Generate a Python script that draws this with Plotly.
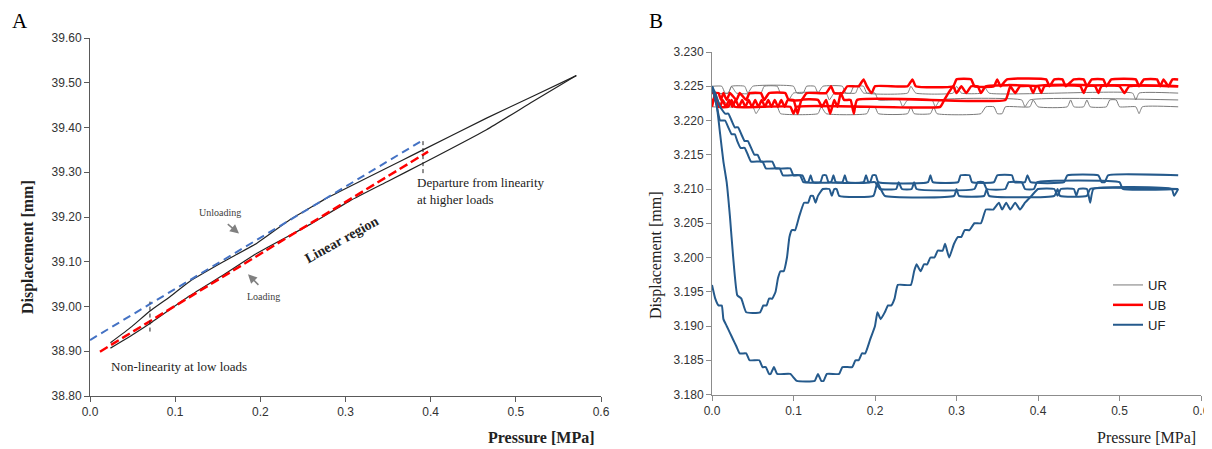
import plotly.graph_objects as go

# ---------------- Panel A data ----------------
load_x = [0.024, 0.050, 0.0704, 0.117, 0.157, 0.196, 0.258, 0.305, 0.350, 0.391, 0.4656, 0.520, 0.571]
load_y = [38.907, 38.937, 38.962, 39.024, 39.071, 39.119, 39.183, 39.236, 39.280, 39.320, 39.395, 39.458, 39.516]
unload_x = [0.571, 0.520, 0.4656, 0.391, 0.2758, 0.258, 0.2347, 0.1956, 0.1565, 0.117, 0.0939, 0.0704, 0.049, 0.024]
unload_y = [39.516, 39.470, 39.421, 39.350, 39.240, 39.220, 39.194, 39.141, 39.100, 39.056, 39.022, 38.990, 38.955, 38.919]
fit_unload_x = [0.0, 0.392]
fit_unload_y = [38.925, 39.373]
fit_load_x = [0.0117, 0.397]
fit_load_y = [38.899, 39.346]
mark_low_x = [0.0704, 0.0704]
mark_low_y = [38.944, 39.011]
mark_high_x = [0.391, 0.391]
mark_high_y = [39.298, 39.373]

# ---------------- Panel B data (x = pressure MPa, y = displacement mm) ----------------
UR_1 = [(0.000,3.225),(0.012,3.225),(0.016,3.224),(0.020,3.224),(0.024,3.225),(0.040,3.225),(0.044,3.224),(0.050,3.225),
        (0.100,3.225),(0.104,3.224),(0.112,3.224),(0.116,3.225),(0.126,3.225),(0.130,3.224),(0.136,3.225),(0.160,3.225),
        (0.164,3.224),(0.170,3.224),(0.174,3.225),(0.186,3.225),(0.190,3.224),(0.240,3.224),(0.244,3.225),(0.250,3.224),
        (0.296,3.224),(0.300,3.225),(0.306,3.224),(0.330,3.224),(0.334,3.225),(0.340,3.224),(0.516,3.224),(0.520,3.223),
        (0.524,3.224),(0.572,3.224)]
UR_2 = [(0.000,3.224),(0.020,3.224),(0.024,3.225),(0.030,3.224),(0.060,3.224),(0.064,3.225),(0.080,3.225),(0.084,3.224),
        (0.090,3.224),(0.094,3.223),(0.100,3.224),(0.140,3.224),(0.144,3.223),(0.150,3.224),(0.176,3.224),(0.180,3.225),
        (0.186,3.224),(0.200,3.224),(0.204,3.223),(0.230,3.223),(0.234,3.222),(0.240,3.223),(0.270,3.223),(0.274,3.222),
        (0.280,3.223),(0.380,3.223),(0.384,3.222),(0.390,3.223),(0.572,3.223)]
UR_3 = [(0.000,3.222),(0.010,3.222),(0.014,3.223),(0.020,3.222),(0.050,3.222),(0.054,3.221),(0.060,3.222),(0.080,3.222),
        (0.084,3.221),(0.130,3.221),(0.134,3.222),(0.140,3.221),(0.190,3.221),(0.194,3.222),(0.200,3.222),(0.204,3.221),
        (0.240,3.221),(0.244,3.222),(0.248,3.221),(0.268,3.221),(0.272,3.222),(0.276,3.221),(0.330,3.221),(0.336,3.222),
        (0.346,3.222),(0.350,3.221),(0.356,3.221),(0.360,3.222),(0.390,3.222),(0.394,3.223),(0.400,3.222),(0.436,3.222),
        (0.440,3.223),(0.444,3.222),(0.456,3.222),(0.460,3.223),(0.464,3.222),(0.484,3.222),(0.488,3.223),(0.496,3.223),
        (0.500,3.222),(0.520,3.222),(0.524,3.221),(0.528,3.222),(0.572,3.222)]

UB_1 = [(0.000,3.224),(0.008,3.224),(0.011,3.223),(0.014,3.224),(0.018,3.223),(0.022,3.224),(0.030,3.223),(0.034,3.224),
        (0.042,3.223),(0.046,3.224),(0.060,3.224),(0.064,3.223),(0.070,3.224),(0.090,3.224),(0.094,3.223),(0.110,3.223),
        (0.116,3.224),(0.140,3.224),(0.146,3.225),(0.150,3.224),(0.160,3.224),(0.166,3.225),(0.180,3.225),(0.186,3.226),
        (0.190,3.225),(0.196,3.224),(0.200,3.225),(0.240,3.225),(0.246,3.226),(0.250,3.225),(0.296,3.225),(0.300,3.226),
        (0.318,3.226),(0.322,3.225),(0.346,3.225),(0.350,3.226),(0.354,3.225),(0.362,3.226),(0.410,3.226),(0.414,3.225),
        (0.420,3.226),(0.430,3.226),(0.434,3.225),(0.444,3.226),(0.456,3.226),(0.460,3.225),(0.466,3.226),(0.480,3.226),
        (0.484,3.225),(0.490,3.226),(0.520,3.226),(0.524,3.225),(0.530,3.226),(0.546,3.226),(0.550,3.225),(0.554,3.226),
        (0.560,3.225),(0.565,3.226),(0.572,3.226)]
UB_2 = [(0.000,3.223),(0.006,3.223),(0.010,3.222),(0.013,3.223),(0.017,3.222),(0.021,3.223),(0.025,3.222),(0.029,3.223),
        (0.033,3.222),(0.037,3.223),(0.041,3.222),(0.045,3.223),(0.049,3.222),(0.053,3.223),(0.057,3.222),(0.061,3.223),
        (0.065,3.222),(0.069,3.223),(0.073,3.222),(0.077,3.223),(0.081,3.222),(0.085,3.223),(0.089,3.222),(0.093,3.223),
        (0.100,3.223),(0.105,3.221),(0.110,3.223),(0.130,3.223),(0.135,3.222),(0.140,3.223),(0.145,3.221),(0.150,3.223),
        (0.154,3.222),(0.158,3.224),(0.162,3.223),(0.170,3.223),(0.174,3.221),(0.178,3.223),(0.360,3.223),(0.366,3.225),
        (0.372,3.224),(0.378,3.225),(0.400,3.225),(0.404,3.224),(0.408,3.225),(0.452,3.225),(0.456,3.224),(0.460,3.225),
        (0.500,3.225),(0.506,3.224),(0.512,3.225),(0.572,3.225)]
UB_3 = [(0.000,3.222),(0.004,3.224),(0.008,3.222),(0.020,3.222),(0.024,3.223),(0.028,3.222),(0.096,3.222),(0.100,3.221),
        (0.104,3.222),(0.280,3.222),(0.285,3.223),(0.290,3.224),(0.296,3.225),(0.300,3.224),(0.306,3.225),(0.312,3.224),
        (0.318,3.225),(0.326,3.225),(0.330,3.224),(0.336,3.225),(0.390,3.225),(0.394,3.224),(0.398,3.225),(0.470,3.225),
        (0.474,3.224),(0.478,3.225),(0.572,3.225)]

UF_1 = [(0.000,3.225),(0.004,3.224),(0.010,3.222),(0.016,3.221),(0.020,3.221),(0.024,3.220),(0.028,3.219),(0.032,3.219),
        (0.036,3.218),(0.040,3.217),(0.044,3.217),(0.048,3.216),(0.052,3.215),(0.056,3.215),(0.060,3.214),(0.074,3.214),
        (0.078,3.213),(0.096,3.213),(0.100,3.212),(0.111,3.212),(0.115,3.211),(0.133,3.211),(0.136,3.212),(0.140,3.212),
        (0.143,3.211),(0.160,3.211),(0.163,3.212),(0.166,3.211),(0.194,3.211),(0.197,3.212),(0.201,3.212),(0.204,3.211),
        (0.265,3.211),(0.268,3.212),(0.271,3.211),(0.302,3.211),(0.305,3.212),(0.316,3.212),(0.319,3.211),(0.346,3.211),
        (0.350,3.212),(0.368,3.212),(0.371,3.211),(0.384,3.211),(0.387,3.212),(0.391,3.211),(0.432,3.211),(0.436,3.212),
        (0.474,3.212),(0.478,3.211),(0.482,3.211),(0.486,3.212),(0.572,3.212)]
UF_2 = [(0.000,3.225),(0.006,3.222),(0.010,3.220),(0.016,3.220),(0.020,3.219),(0.024,3.218),(0.028,3.218),(0.031,3.217),
        (0.035,3.216),(0.040,3.216),(0.044,3.215),(0.048,3.214),(0.062,3.214),(0.066,3.213),(0.083,3.213),(0.087,3.212),
        (0.108,3.212),(0.112,3.211),(0.118,3.211),(0.121,3.212),(0.124,3.211),(0.146,3.211),(0.149,3.212),(0.152,3.211),
        (0.186,3.211),(0.189,3.212),(0.192,3.211),(0.200,3.211),(0.206,3.210),(0.226,3.210),(0.229,3.211),(0.233,3.210),
        (0.245,3.210),(0.248,3.211),(0.251,3.210),(0.322,3.210),(0.326,3.211),(0.333,3.211),(0.337,3.210),(0.360,3.210),
        (0.364,3.211),(0.380,3.211),(0.384,3.210),(0.395,3.210),(0.399,3.211),(0.500,3.211),(0.504,3.210),(0.572,3.210)]
UF_3 = [(0.000,3.225),(0.006,3.222),(0.010,3.218),(0.014,3.214),(0.018,3.211),(0.022,3.206),(0.026,3.200),(0.031,3.1945),
        (0.036,3.194),(0.042,3.192),(0.059,3.192),(0.063,3.193),(0.067,3.193),(0.070,3.194),(0.074,3.194),(0.078,3.195),
        (0.081,3.197),(0.084,3.198),(0.088,3.198),(0.092,3.200),(0.095,3.203),(0.098,3.204),(0.102,3.204),(0.107,3.206),
        (0.113,3.208),(0.118,3.208),(0.121,3.209),(0.124,3.209),(0.127,3.208),(0.130,3.209),(0.136,3.210),(0.144,3.210),
        (0.147,3.209),(0.150,3.210),(0.153,3.210),(0.156,3.209),(0.198,3.209),(0.203,3.211),(0.207,3.210),(0.212,3.209),
        (0.297,3.209),(0.300,3.210),(0.303,3.209),(0.334,3.209),(0.337,3.210),(0.340,3.209),(0.420,3.209),(0.424,3.210),
        (0.427,3.209),(0.460,3.209),(0.464,3.210),(0.572,3.210)]
UF_4 = [(0.000,3.196),(0.004,3.194),(0.008,3.193),(0.012,3.193),(0.014,3.191),(0.018,3.190),(0.022,3.189),(0.026,3.188),
        (0.030,3.187),(0.034,3.186),(0.042,3.186),(0.046,3.185),(0.058,3.185),(0.062,3.184),(0.066,3.184),(0.070,3.183),
        (0.072,3.183),(0.076,3.184),(0.080,3.183),(0.096,3.183),(0.104,3.182),(0.126,3.182),(0.130,3.183),(0.134,3.182),
        (0.137,3.182),(0.141,3.183),(0.156,3.183),(0.160,3.184),(0.172,3.184),(0.176,3.185),(0.180,3.185),(0.184,3.186),
        (0.188,3.186),(0.194,3.188),(0.200,3.190),(0.203,3.192),(0.207,3.191),(0.212,3.192),(0.216,3.193),(0.220,3.193),
        (0.224,3.194),(0.228,3.196),(0.244,3.196),(0.248,3.198),(0.251,3.199),(0.256,3.198),(0.260,3.199),(0.264,3.199),
        (0.268,3.200),(0.273,3.200),(0.277,3.201),(0.283,3.201),(0.286,3.202),(0.291,3.200),(0.297,3.202),(0.302,3.203),
        (0.306,3.203),(0.310,3.204),(0.316,3.204),(0.322,3.205),(0.330,3.205),(0.336,3.207),(0.345,3.207),(0.352,3.208),
        (0.356,3.207),(0.361,3.208),(0.366,3.207),(0.372,3.208),(0.378,3.207),(0.384,3.208),(0.392,3.209),(0.400,3.210),
        (0.420,3.210),(0.424,3.209),(0.428,3.210),(0.444,3.210),(0.447,3.209),(0.450,3.210),(0.460,3.210),(0.464,3.208),
        (0.468,3.210),(0.564,3.210),(0.567,3.209),(0.572,3.210)]

x_ticks = [0.0, 0.1, 0.2, 0.3, 0.4, 0.5, 0.6]
yA_ticks = [38.80, 38.90, 39.00, 39.10, 39.20, 39.30, 39.40, 39.50, 39.60]
yB_ticks = [3.180, 3.185, 3.190, 3.195, 3.200, 3.205, 3.210, 3.215, 3.220, 3.225, 3.230]

SERIF = "Liberation Serif, Times New Roman, serif"
SANS = "Liberation Sans, Arial, sans-serif"
W, H = 1212, 449
OFF = 8  # page body margin offset

fig = go.Figure()

# Panel A traces
fig.add_trace(go.Scatter(x=load_x, y=load_y, mode="lines", line=dict(color="#222222", width=1.2, shape="spline", smoothing=0.5),
                         showlegend=False, xaxis="x", yaxis="y", hoverinfo="skip"))
fig.add_trace(go.Scatter(x=unload_x, y=unload_y, mode="lines", line=dict(color="#222222", width=1.2, shape="spline", smoothing=0.5),
                         showlegend=False, xaxis="x", yaxis="y", hoverinfo="skip"))
fig.add_trace(go.Scatter(x=fit_unload_x, y=fit_unload_y, mode="lines",
                         line=dict(color="#4472C4", width=2, dash="8px,5px"), showlegend=False, xaxis="x", yaxis="y"))
fig.add_trace(go.Scatter(x=fit_load_x, y=fit_load_y, mode="lines",
                         line=dict(color="#FF0000", width=2.5, dash="9px,4px"), showlegend=False, xaxis="x", yaxis="y"))
for mx, my in [(mark_low_x, mark_low_y), (mark_high_x, mark_high_y)]:
    fig.add_trace(go.Scatter(x=mx, y=my, mode="lines", line=dict(color="#222222", width=1, dash="4px,3px"),
                             showlegend=False, xaxis="x", yaxis="y"))

# Panel B traces
groups = [("UR", [UR_1, UR_2, UR_3], "#7A7A7A", 1.0),
          ("UB", [UB_1, UB_2, UB_3], "#FF0000", 2.5),
          ("UF", [UF_1, UF_2, UF_3, UF_4], "#255A8C", 2.0)]
for name, series, color, width in groups:
    for i, s in enumerate(series):
        xs = [p[0] for p in s]
        ys = [p[1] for p in s]
        fig.add_trace(go.Scatter(x=xs, y=ys, mode="lines", name=name, legendgroup=name,
                                 showlegend=(i == 0),
                                 line=dict(color=color, width=width, shape="spline", smoothing=0.4),
                                 xaxis="x2", yaxis="y2"))

def px2paper_x(px):
    return (px - OFF) / W

def py2paper_y(py):
    return 1 - (py - OFF) / H

axis_common = dict(showgrid=False, zeroline=False, showline=True, ticks="outside", ticklen=5, automargin=False,
                   tickfont=dict(family=SANS, size=12, color="#333333"))

fig.update_layout(
    width=W, height=H, margin=dict(l=0, r=0, t=0, b=0, autoexpand=False),
    paper_bgcolor="white", plot_bgcolor="white",
    xaxis=dict(domain=[px2paper_x(90), px2paper_x(601)], range=[0, 0.6], tickvals=x_ticks, tickformat=".1f",
               linecolor="#595959", tickcolor="#595959", anchor="y", **axis_common),
    yaxis=dict(domain=[py2paper_y(396), py2paper_y(38)], range=[38.8, 39.6], tickvals=yA_ticks, tickformat=".2f",
               linecolor="#595959", tickcolor="#595959", anchor="x", **axis_common),
    xaxis2=dict(domain=[px2paper_x(712), px2paper_x(1201)], range=[0, 0.6], tickvals=x_ticks, tickformat=".1f",
                linecolor="#8C8C8C", tickcolor="#8C8C8C", anchor="y2", **axis_common),
    yaxis2=dict(domain=[py2paper_y(394.5), py2paper_y(52)], range=[3.18, 3.23], tickvals=yB_ticks, tickformat=".3f",
                linecolor="#8C8C8C", tickcolor="#8C8C8C", anchor="x2", **axis_common),
    legend=dict(x=px2paper_x(1108), y=py2paper_y(270), xanchor="left", yanchor="top",
                font=dict(family=SANS, size=13, color="#222222"), bgcolor="rgba(0,0,0,0)",
                tracegroupgap=0, itemwidth=30),
    showlegend=True,
)

def paper_text(text, px, py, size, angle=0, xanchor="center", bold=False, family=SERIF, color="#222222"):
    return dict(text=f"<b>{text}</b>" if bold else text, x=px2paper_x(px), y=py2paper_y(py),
                xref="paper", yref="paper", xanchor=xanchor, yanchor="middle", showarrow=False,
                textangle=angle, font=dict(family=family, size=size, color=color))

ann = []
# panel labels
ann.append(paper_text("A", 20, 21, 21, color="black"))
ann.append(paper_text("B", 656, 21, 21, color="black"))
# axis titles
ann.append(paper_text("Displacement [mm]", 28, 247, 16, angle=-90, bold=True))
ann.append(paper_text("Pressure [MPa]", 596, 437, 16, xanchor="right", bold=True))
ann.append(paper_text("Displacement [mm]", 656, 255, 16, angle=-90))
ann.append(paper_text("Pressure [MPa]", 1198, 437, 16, xanchor="right"))
# panel A annotations
ann.append(dict(text="Unloading", x=0.1526, y=39.209, xref="x", yref="y", showarrow=False,
                font=dict(family=SERIF, size=10, color="#404040")))
ann.append(dict(text="", x=0.175, y=39.163, ax=0.160, ay=39.187, xref="x", yref="y", axref="x", ayref="y",
                showarrow=True, arrowhead=2, arrowsize=1.2, arrowwidth=1.5, arrowcolor="#808080"))
ann.append(dict(text="Loading", x=0.2034, y=39.022, xref="x", yref="y", showarrow=False,
                font=dict(family=SERIF, size=10, color="#404040")))
ann.append(dict(text="", x=0.1855, y=39.072, ax=0.1995, ay=39.045, xref="x", yref="y", axref="x", ayref="y",
                showarrow=True, arrowhead=2, arrowsize=1.2, arrowwidth=1.5, arrowcolor="#808080"))
ann.append(dict(text="<b>Linear region</b>", x=0.296, y=39.149, xref="x", yref="y", showarrow=False,
                textangle=-29, font=dict(family=SERIF, size=14, color="#222222")))
ann.append(dict(text="Departure from linearity<br>at higher loads", x=0.382, y=39.257, xref="x", yref="y",
                xanchor="left", align="left", showarrow=False, font=dict(family=SERIF, size=13, color="#222222")))
ann.append(dict(text="Non-linearity at low loads", x=0.0223, y=38.865, xref="x", yref="y",
                xanchor="left", showarrow=False, font=dict(family=SERIF, size=13, color="#222222")))
fig.update_layout(annotations=ann)

fig.write_html("out.html")
